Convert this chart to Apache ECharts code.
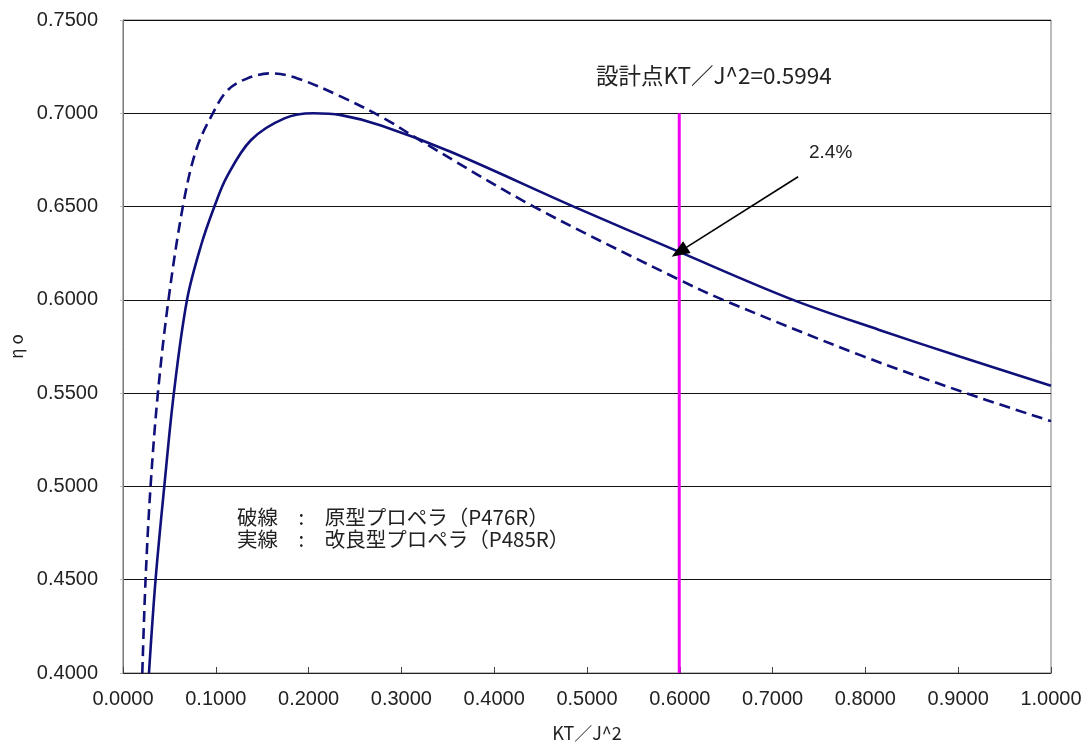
<!DOCTYPE html>
<html>
<head>
<meta charset="utf-8">
<script src="https://cdn.jsdelivr.net/npm/echarts@6/dist/echarts.min.js"></script>
<style>
  html, body { margin: 0; padding: 0; background: #fff; }
  #chart { width: 1088px; height: 747px; }
</style>
</head>
<body>
<div id="chart"></div>
<script>
// Propeller open-water efficiency ηo versus KT/J^2
// Improved propeller P485R (solid line)
const ktImproved = [0.0280, 0.0351, 0.0445, 0.0548, 0.0690, 0.0840, 0.0985, 0.112, 0.138, 0.174,
                    0.205, 0.235, 0.278, 0.353, 0.4856, 0.5994, 0.722, 0.815, 0.9016, 1.000];
const etaImproved = [0.400, 0.450, 0.500, 0.550, 0.600, 0.629, 0.650, 0.666, 0.6857, 0.6973,
                     0.7000, 0.6990, 0.6935, 0.6794, 0.650, 0.6257, 0.600, 0.5839, 0.5696, 0.5540];

// Original propeller P476R (dashed line)
const ktOriginal = [0.0208, 0.0243, 0.0297, 0.0376, 0.0490, 0.0645, 0.0788, 0.0968, 0.113, 0.134,
                    0.159, 0.188, 0.235, 0.2813, 0.324, 0.4426, 0.5994, 0.6466, 0.7938, 0.9086, 1.000];
const etaOriginal = [0.400, 0.450, 0.500, 0.550, 0.600, 0.650, 0.6803, 0.700, 0.7125, 0.7187,
                     0.7214, 0.7187, 0.7089, 0.6973, 0.6843, 0.650, 0.6108, 0.600, 0.5705, 0.550, 0.5350];

// Design point
const designKT = 0.5994;
const designEta = 0.6257;          // improved propeller at the design point
const designLineEta = [0.40, 0.70]; // vertical extent of the design-point line
const arrowTail = [0.7275, 0.666];  // start of the "2.4%" pointer

const xMin = 0, xMax = 1.0, xStep = 0.1;
const yMin = 0.40, yMax = 0.75, yStep = 0.05;

const lineColor = '#10107a';
const numFont = '"Liberation Sans", Arial, sans-serif';
const jpFont = '"Noto Sans CJK JP", "Liberation Sans", sans-serif';

const pairs = (xs, ys) => xs.map((x, i) => [x, ys[i]]);

const chart = echarts.init(document.getElementById('chart'), null, { renderer: 'canvas' });

chart.setOption({
  animation: false,
  backgroundColor: '#ffffff',
  grid: {
    left: 122, right: 37, top: 20, bottom: 74,
    show: true, borderColor: '#7a7a7a', borderWidth: 1, backgroundColor: 'transparent'
  },
  xAxis: {
    type: 'value',
    min: xMin, max: xMax, interval: xStep,
    name: 'KT／J^2',
    nameLocation: 'middle',
    nameGap: 51,
    nameTextStyle: { fontFamily: jpFont, fontSize: 18, color: '#222' },
    axisLine: { show: true, onZero: false, lineStyle: { color: '#222', width: 1 } },
    axisTick: { show: true, inside: true, length: 6, lineStyle: { color: '#444' } },
    axisLabel: {
      margin: 16, fontFamily: numFont, fontSize: 20, color: '#222',
      formatter: v => v.toFixed(4)
    },
    splitLine: { show: false }
  },
  yAxis: {
    type: 'value',
    min: yMin, max: yMax, interval: yStep,
    name: 'η o',
    nameLocation: 'middle',
    nameRotate: 90,
    nameGap: 98,
    nameTextStyle: { fontFamily: jpFont, fontSize: 17, color: '#222' },
    axisLine: { show: true, lineStyle: { color: '#7a7a7a', width: 1 } },
    axisTick: { show: true, length: 3, lineStyle: { color: '#bbb' } },
    axisLabel: {
      margin: 25, fontFamily: numFont, fontSize: 20, color: '#222',
      formatter: v => v.toFixed(4)
    },
    splitLine: { show: true, lineStyle: { color: '#111', width: 1 } }
  },
  series: [
    {
      name: '設計点',
      type: 'line',
      data: designLineEta.map(e => [designKT, e]),
      symbol: 'none',
      lineStyle: { color: '#f000f0', width: 3 },
      z: 2,
      silent: true
    },
    {
      name: '原型プロペラ(P476R)',
      type: 'line',
      data: pairs(ktOriginal, etaOriginal),
      smooth: 0.35,
      symbol: 'none',
      lineStyle: { color: lineColor, width: 2.6, type: [11, 6] },
      z: 3,
      silent: true
    },
    {
      name: '改良型プロペラ(P485R)',
      type: 'line',
      data: pairs(ktImproved, etaImproved),
      smooth: 0.35,
      symbol: 'none',
      lineStyle: { color: lineColor, width: 2.6 },
      z: 4,
      silent: true,
      markLine: {
        silent: true,
        animation: false,
        label: { show: false },
        lineStyle: { color: '#000', width: 1.6, type: 'solid' },
        data: [[
          { coord: arrowTail, symbol: 'none' },
          { coord: [designKT, designEta], symbol: 'triangle', symbolSize: [14, 18] }
        ]]
      }
    }
  ],
  graphic: [
    {
      type: 'text', left: 596, top: 64, silent: true,
      style: { text: '設計点KT／J^2=0.5994', font: '22.5px ' + jpFont, fill: '#222' }
    },
    {
      type: 'text', left: 809, top: 143, silent: true,
      style: { text: '2.4%', font: '19px ' + numFont, fill: '#222' }
    },
    {
      type: 'text', left: 237, top: 506, silent: true,
      style: {
        text: '破線　:　原型プロペラ（P476R）\n実線　:　改良型プロペラ（P485R）',
        font: '20.5px ' + jpFont, fill: '#222', lineHeight: 22
      }
    }
  ]
});
</script>
</body>
</html>
